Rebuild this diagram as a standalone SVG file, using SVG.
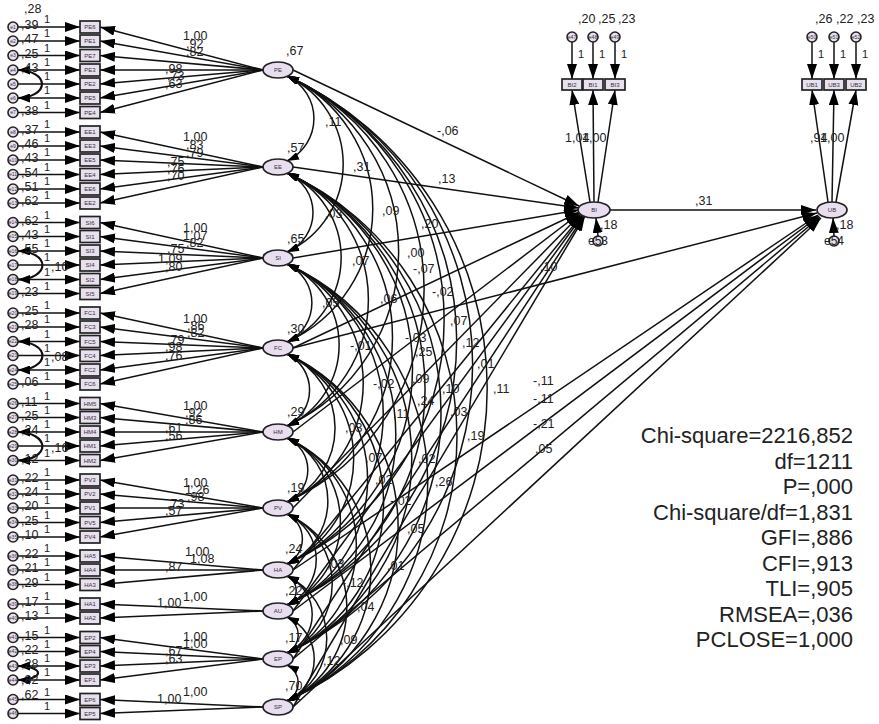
<svg xmlns="http://www.w3.org/2000/svg" width="879" height="724" viewBox="0 0 879 724">
<style>
.c line,.c path{stroke:#111;stroke-width:1.5;fill:none}
.a{marker-end:url(#ah)}
.v{marker-start:url(#ac);marker-end:url(#ac)}
.s{marker-start:url(#as);marker-end:url(#as);stroke-width:2.2!important}
.box rect{fill:#e8e0ef;stroke:#222;stroke-width:1.7}
.lat ellipse{fill:#e8def0;stroke:#222;stroke-width:1.7}
.err circle{fill:#e8def0;stroke:#222;stroke-width:1.6}
.bt{font-family:"Liberation Sans",Arial,sans-serif;font-size:6px;text-anchor:middle;fill:#333}
.et{font-family:"Liberation Sans",Arial,sans-serif;font-size:5px;text-anchor:middle;fill:#333}
.lab text{font-family:"Liberation Sans",Arial,sans-serif;font-size:12.5px;fill:#222}
.lab .one{font-size:11px}
.stat text{font-family:"Liberation Sans",Arial,sans-serif;font-size:22px;text-anchor:end;fill:#222}
</style>
<defs>
<marker id="ah" viewBox="0 0 15 10" refX="15" refY="5" markerWidth="15" markerHeight="10" markerUnits="userSpaceOnUse" orient="auto"><path d="M0,0L15,5L0,10z" fill="#000"/></marker>
<marker id="ac" viewBox="0 0 12 8" refX="12" refY="4" markerWidth="12" markerHeight="8" markerUnits="userSpaceOnUse" orient="auto-start-reverse"><path d="M0,0L12,4L0,8z" fill="#000"/></marker>
<marker id="as" viewBox="0 0 12 9" refX="12" refY="4.5" markerWidth="12" markerHeight="9" markerUnits="userSpaceOnUse" orient="auto-start-reverse"><path d="M0,0L12,4.5L0,9z" fill="#000"/></marker>
</defs>
<rect width="879" height="724" fill="#fff"/>
<g id="connectors" class="c">
<line class="a" x1="18" y1="27" x2="80" y2="27"/><line class="a" x1="18" y1="41" x2="80" y2="41"/><line class="a" x1="18" y1="55.5" x2="80" y2="55.5"/><line class="a" x1="18" y1="70" x2="80" y2="70"/><line class="a" x1="18" y1="84" x2="80" y2="84"/><line class="a" x1="18" y1="98" x2="80" y2="98"/><line class="a" x1="18" y1="112.5" x2="80" y2="112.5"/>
<line class="a" x1="18" y1="132" x2="80" y2="132"/><line class="a" x1="18" y1="146" x2="80" y2="146"/><line class="a" x1="18" y1="160" x2="80" y2="160"/><line class="a" x1="18" y1="174.5" x2="80" y2="174.5"/><line class="a" x1="18" y1="189" x2="80" y2="189"/><line class="a" x1="18" y1="203" x2="80" y2="203"/>
<line class="a" x1="18" y1="222.5" x2="80" y2="222.5"/><line class="a" x1="18" y1="236.5" x2="80" y2="236.5"/><line class="a" x1="18" y1="251" x2="80" y2="251"/><line class="a" x1="18" y1="265" x2="80" y2="265"/><line class="a" x1="18" y1="279.5" x2="80" y2="279.5"/><line class="a" x1="18" y1="293.5" x2="80" y2="293.5"/>
<line class="a" x1="18" y1="313" x2="80" y2="313"/><line class="a" x1="18" y1="327" x2="80" y2="327"/><line class="a" x1="18" y1="341.5" x2="80" y2="341.5"/><line class="a" x1="18" y1="355.5" x2="80" y2="355.5"/><line class="a" x1="18" y1="370" x2="80" y2="370"/><line class="a" x1="18" y1="384" x2="80" y2="384"/>
<line class="a" x1="18" y1="403.5" x2="80" y2="403.5"/><line class="a" x1="18" y1="417.5" x2="80" y2="417.5"/><line class="a" x1="18" y1="432" x2="80" y2="432"/><line class="a" x1="18" y1="446" x2="80" y2="446"/><line class="a" x1="18" y1="460.5" x2="80" y2="460.5"/>
<line class="a" x1="18" y1="480" x2="80" y2="480"/><line class="a" x1="18" y1="494" x2="80" y2="494"/><line class="a" x1="18" y1="508" x2="80" y2="508"/><line class="a" x1="18" y1="522.5" x2="80" y2="522.5"/><line class="a" x1="18" y1="537" x2="80" y2="537"/>
<line class="a" x1="18" y1="556" x2="80" y2="556"/><line class="a" x1="18" y1="570" x2="80" y2="570"/><line class="a" x1="18" y1="584.5" x2="80" y2="584.5"/>
<line class="a" x1="18" y1="604" x2="80" y2="604"/><line class="a" x1="18" y1="618" x2="80" y2="618"/>
<line class="a" x1="18" y1="637.5" x2="80" y2="637.5"/><line class="a" x1="18" y1="651.5" x2="80" y2="651.5"/><line class="a" x1="18" y1="666" x2="80" y2="666"/><line class="a" x1="18" y1="680" x2="80" y2="680"/>
<line class="a" x1="18" y1="699.5" x2="80" y2="699.5"/><line class="a" x1="18" y1="713.5" x2="80" y2="713.5"/>
<path class="s" d="M18,70 A24,14 0 0 1 18,98"/>
<path class="s" d="M18,251 A24,14 0 0 1 18,279.5"/>
<path class="s" d="M18,341.5 A24,14 0 0 1 18,370"/>
<path class="s" d="M18,432 A24,14 0 0 1 18,460.5"/>
<path class="s" d="M18,666 A20,7 0 0 1 18,680"/>
<line class="a" x1="263" y1="70" x2="100" y2="27"/><line class="a" x1="263" y1="70" x2="100" y2="41"/><line class="a" x1="263" y1="70" x2="100" y2="55.5"/><line class="a" x1="263" y1="70" x2="100" y2="70"/><line class="a" x1="263" y1="70" x2="100" y2="84"/><line class="a" x1="263" y1="70" x2="100" y2="98"/><line class="a" x1="263" y1="70" x2="100" y2="112.5"/>
<line class="a" x1="263" y1="167" x2="100" y2="132"/><line class="a" x1="263" y1="167" x2="100" y2="146"/><line class="a" x1="263" y1="167" x2="100" y2="160"/><line class="a" x1="263" y1="167" x2="100" y2="174.5"/><line class="a" x1="263" y1="167" x2="100" y2="189"/><line class="a" x1="263" y1="167" x2="100" y2="203"/>
<line class="a" x1="263" y1="258" x2="100" y2="222.5"/><line class="a" x1="263" y1="258" x2="100" y2="236.5"/><line class="a" x1="263" y1="258" x2="100" y2="251"/><line class="a" x1="263" y1="258" x2="100" y2="265"/><line class="a" x1="263" y1="258" x2="100" y2="279.5"/><line class="a" x1="263" y1="258" x2="100" y2="293.5"/>
<line class="a" x1="263" y1="348" x2="100" y2="313"/><line class="a" x1="263" y1="348" x2="100" y2="327"/><line class="a" x1="263" y1="348" x2="100" y2="341.5"/><line class="a" x1="263" y1="348" x2="100" y2="355.5"/><line class="a" x1="263" y1="348" x2="100" y2="370"/><line class="a" x1="263" y1="348" x2="100" y2="384"/>
<line class="a" x1="263" y1="432" x2="100" y2="403.5"/><line class="a" x1="263" y1="432" x2="100" y2="417.5"/><line class="a" x1="263" y1="432" x2="100" y2="432"/><line class="a" x1="263" y1="432" x2="100" y2="446"/><line class="a" x1="263" y1="432" x2="100" y2="460.5"/>
<line class="a" x1="263" y1="508" x2="100" y2="480"/><line class="a" x1="263" y1="508" x2="100" y2="494"/><line class="a" x1="263" y1="508" x2="100" y2="508"/><line class="a" x1="263" y1="508" x2="100" y2="522.5"/><line class="a" x1="263" y1="508" x2="100" y2="537"/>
<line class="a" x1="263" y1="570" x2="100" y2="556"/><line class="a" x1="263" y1="570" x2="100" y2="570"/><line class="a" x1="263" y1="570" x2="100" y2="584.5"/>
<line class="a" x1="263" y1="611" x2="100" y2="604"/><line class="a" x1="263" y1="611" x2="100" y2="618"/>
<line class="a" x1="263" y1="659" x2="100" y2="637.5"/><line class="a" x1="263" y1="659" x2="100" y2="651.5"/><line class="a" x1="263" y1="659" x2="100" y2="666"/><line class="a" x1="263" y1="659" x2="100" y2="680"/>
<line class="a" x1="263" y1="707" x2="100" y2="699.5"/><line class="a" x1="263" y1="707" x2="100" y2="713.5"/>
<path class="v" d="M287,76 A47,47 0 0 1 287,161"/>
<path class="v" d="M287,76 A97,97 0 0 1 287,252"/>
<path class="v" d="M287,76 A146,146 0 0 1 287,342"/>
<path class="v" d="M287,76 A193,193 0 0 1 287,426"/>
<path class="v" d="M287,76 A234,234 0 0 1 287,502"/>
<path class="v" d="M287,76 A268,268 0 0 1 287,564"/>
<path class="v" d="M287,76 A291,291 0 0 1 287,605"/>
<path class="v" d="M287,76 A317,317 0 0 1 287,653"/>
<path class="v" d="M287,76 A344,344 0 0 1 287,701"/>
<path class="v" d="M287,173 A43,43 0 0 1 287,252"/>
<path class="v" d="M287,173 A93,93 0 0 1 287,342"/>
<path class="v" d="M287,173 A139,139 0 0 1 287,426"/>
<path class="v" d="M287,173 A181,181 0 0 1 287,502"/>
<path class="v" d="M287,173 A215,215 0 0 1 287,564"/>
<path class="v" d="M287,173 A238,238 0 0 1 287,605"/>
<path class="v" d="M287,173 A264,264 0 0 1 287,653"/>
<path class="v" d="M287,173 A290,290 0 0 1 287,701"/>
<path class="v" d="M287,264 A43,43 0 0 1 287,342"/>
<path class="v" d="M287,264 A89,89 0 0 1 287,426"/>
<path class="v" d="M287,264 A131,131 0 0 1 287,502"/>
<path class="v" d="M287,264 A165,165 0 0 1 287,564"/>
<path class="v" d="M287,264 A188,188 0 0 1 287,605"/>
<path class="v" d="M287,264 A214,214 0 0 1 287,653"/>
<path class="v" d="M287,264 A240,240 0 0 1 287,701"/>
<path class="v" d="M287,354 A40,40 0 0 1 287,426"/>
<path class="v" d="M287,354 A81,81 0 0 1 287,502"/>
<path class="v" d="M287,354 A116,116 0 0 1 287,564"/>
<path class="v" d="M287,354 A138,138 0 0 1 287,605"/>
<path class="v" d="M287,354 A164,164 0 0 1 287,653"/>
<path class="v" d="M287,354 A191,191 0 0 1 287,701"/>
<path class="v" d="M287,438 A35,35 0 0 1 287,502"/>
<path class="v" d="M287,438 A69,69 0 0 1 287,564"/>
<path class="v" d="M287,438 A92,92 0 0 1 287,605"/>
<path class="v" d="M287,438 A118,118 0 0 1 287,653"/>
<path class="v" d="M287,438 A145,145 0 0 1 287,701"/>
<path class="v" d="M287,514 A28,28 0 0 1 287,564"/>
<path class="v" d="M287,514 A50,50 0 0 1 287,605"/>
<path class="v" d="M287,514 A76,76 0 0 1 287,653"/>
<path class="v" d="M287,514 A103,103 0 0 1 287,701"/>
<path class="v" d="M287,576 A16,16 0 0 1 287,605"/>
<path class="v" d="M287,576 A42,42 0 0 1 287,653"/>
<path class="v" d="M287,576 A69,69 0 0 1 287,701"/>
<path class="v" d="M287,617 A20,20 0 0 1 287,653"/>
<path class="v" d="M287,617 A46,46 0 0 1 287,701"/>
<path class="v" d="M287,665 A20,20 0 0 1 287,701"/>
<line class="a" x1="293" y1="70" x2="579" y2="206"/>
<line class="a" x1="293" y1="167" x2="579" y2="208"/>
<line class="a" x1="293" y1="258" x2="579" y2="210"/>
<line class="a" x1="293" y1="348" x2="580" y2="212"/>
<line class="a" x1="293" y1="432" x2="580" y2="213"/>
<line class="a" x1="293" y1="508" x2="581" y2="214"/>
<line class="a" x1="293" y1="570" x2="582" y2="215"/>
<line class="a" x1="293" y1="611" x2="583" y2="215"/>
<line class="a" x1="293" y1="659" x2="584" y2="216"/>
<line class="a" x1="293" y1="707" x2="585" y2="216"/>
<line class="a" x1="293" y1="348" x2="817" y2="213"/>
<line class="a" x1="293" y1="570" x2="818" y2="215"/>
<line class="a" x1="293" y1="611" x2="819" y2="216"/>
<line class="a" x1="293" y1="659" x2="820" y2="217"/>
<line class="a" x1="293" y1="707" x2="821" y2="218"/>
<line class="a" x1="610" y1="210" x2="816" y2="210"/>
<line class="a" x1="590" y1="202" x2="572" y2="90"/><line class="a" x1="594" y1="202" x2="593" y2="90"/><line class="a" x1="598" y1="202" x2="615" y2="90"/>
<line class="a" x1="828" y1="202" x2="812" y2="90"/><line class="a" x1="832" y1="202" x2="834" y2="90"/><line class="a" x1="836" y1="202" x2="856" y2="90"/>
<line class="a" x1="572" y1="42" x2="572" y2="79"/><line class="a" x1="593" y1="42" x2="593" y2="79"/><line class="a" x1="615" y1="42" x2="615" y2="79"/>
<line class="a" x1="812" y1="42" x2="812" y2="79"/><line class="a" x1="834" y1="42" x2="834" y2="79"/><line class="a" x1="856" y1="42" x2="856" y2="79"/>
<line class="a" x1="598" y1="236" x2="596" y2="218"/><line class="a" x1="834" y1="236" x2="833" y2="218"/>
</g>
<g class="err">
<g id="e1"><circle cx="13" cy="27" r="5"/><text class="et" x="13" y="28.7">e1</text></g>
<g id="e2"><circle cx="13" cy="41" r="5"/><text class="et" x="13" y="42.7">e2</text></g>
<g id="e3"><circle cx="13" cy="55.5" r="5"/><text class="et" x="13" y="57.2">e3</text></g>
<g id="e4"><circle cx="13" cy="70" r="5"/><text class="et" x="13" y="71.7">e4</text></g>
<g id="e5"><circle cx="13" cy="84" r="5"/><text class="et" x="13" y="85.7">e5</text></g>
<g id="e6"><circle cx="13" cy="98" r="5"/><text class="et" x="13" y="99.7">e6</text></g>
<g id="e7"><circle cx="13" cy="112.5" r="5"/><text class="et" x="13" y="114.2">e7</text></g>
<g id="e8"><circle cx="13" cy="132" r="5"/><text class="et" x="13" y="133.7">e8</text></g>
<g id="e9"><circle cx="13" cy="146" r="5"/><text class="et" x="13" y="147.7">e9</text></g>
<g id="e10"><circle cx="13" cy="160" r="5"/><text class="et" x="13" y="161.7">e10</text></g>
<g id="e11"><circle cx="13" cy="174.5" r="5"/><text class="et" x="13" y="176.2">e11</text></g>
<g id="e12"><circle cx="13" cy="189" r="5"/><text class="et" x="13" y="190.7">e12</text></g>
<g id="e13"><circle cx="13" cy="203" r="5"/><text class="et" x="13" y="204.7">e13</text></g>
<g id="e14"><circle cx="13" cy="222.5" r="5"/><text class="et" x="13" y="224.2">e14</text></g>
<g id="e15"><circle cx="13" cy="236.5" r="5"/><text class="et" x="13" y="238.2">e15</text></g>
<g id="e16"><circle cx="13" cy="251" r="5"/><text class="et" x="13" y="252.7">e16</text></g>
<g id="e17"><circle cx="13" cy="265" r="5"/><text class="et" x="13" y="266.7">e17</text></g>
<g id="e18"><circle cx="13" cy="279.5" r="5"/><text class="et" x="13" y="281.2">e18</text></g>
<g id="e19"><circle cx="13" cy="293.5" r="5"/><text class="et" x="13" y="295.2">e19</text></g>
<g id="e20"><circle cx="13" cy="313" r="5"/><text class="et" x="13" y="314.7">e20</text></g>
<g id="e21"><circle cx="13" cy="327" r="5"/><text class="et" x="13" y="328.7">e21</text></g>
<g id="e22"><circle cx="13" cy="341.5" r="5"/><text class="et" x="13" y="343.2">e22</text></g>
<g id="e23"><circle cx="13" cy="355.5" r="5"/><text class="et" x="13" y="357.2">e23</text></g>
<g id="e24"><circle cx="13" cy="370" r="5"/><text class="et" x="13" y="371.7">e24</text></g>
<g id="e25"><circle cx="13" cy="384" r="5"/><text class="et" x="13" y="385.7">e25</text></g>
<g id="e26"><circle cx="13" cy="403.5" r="5"/><text class="et" x="13" y="405.2">e26</text></g>
<g id="e27"><circle cx="13" cy="417.5" r="5"/><text class="et" x="13" y="419.2">e27</text></g>
<g id="e28"><circle cx="13" cy="432" r="5"/><text class="et" x="13" y="433.7">e28</text></g>
<g id="e29"><circle cx="13" cy="446" r="5"/><text class="et" x="13" y="447.7">e29</text></g>
<g id="e30"><circle cx="13" cy="460.5" r="5"/><text class="et" x="13" y="462.2">e30</text></g>
<g id="e31"><circle cx="13" cy="480" r="5"/><text class="et" x="13" y="481.7">e31</text></g>
<g id="e32"><circle cx="13" cy="494" r="5"/><text class="et" x="13" y="495.7">e32</text></g>
<g id="e33"><circle cx="13" cy="508" r="5"/><text class="et" x="13" y="509.7">e33</text></g>
<g id="e34"><circle cx="13" cy="522.5" r="5"/><text class="et" x="13" y="524.2">e34</text></g>
<g id="e35"><circle cx="13" cy="537" r="5"/><text class="et" x="13" y="538.7">e35</text></g>
<g id="e36"><circle cx="13" cy="556" r="5"/><text class="et" x="13" y="557.7">e36</text></g>
<g id="e37"><circle cx="13" cy="570" r="5"/><text class="et" x="13" y="571.7">e37</text></g>
<g id="e38"><circle cx="13" cy="584.5" r="5"/><text class="et" x="13" y="586.2">e38</text></g>
<g id="e39"><circle cx="13" cy="604" r="5"/><text class="et" x="13" y="605.7">e39</text></g>
<g id="e40"><circle cx="13" cy="618" r="5"/><text class="et" x="13" y="619.7">e40</text></g>
<g id="e41"><circle cx="13" cy="637.5" r="5"/><text class="et" x="13" y="639.2">e41</text></g>
<g id="e42"><circle cx="13" cy="651.5" r="5"/><text class="et" x="13" y="653.2">e42</text></g>
<g id="e43"><circle cx="13" cy="666" r="5"/><text class="et" x="13" y="667.7">e43</text></g>
<g id="e44"><circle cx="13" cy="680" r="5"/><text class="et" x="13" y="681.7">e44</text></g>
<g id="e45"><circle cx="13" cy="699.5" r="5"/><text class="et" x="13" y="701.2">e45</text></g>
<g id="e46"><circle cx="13" cy="713.5" r="5"/><text class="et" x="13" y="715.2">e46</text></g>
<g id="e47"><circle cx="572" cy="37" r="5"/><text class="et" x="572" y="38.7">e47</text></g>
<g id="e48"><circle cx="593" cy="37" r="5"/><text class="et" x="593" y="38.7">e48</text></g>
<g id="e49"><circle cx="615" cy="37" r="5"/><text class="et" x="615" y="38.7">e49</text></g>
<g id="e50"><circle cx="812" cy="37" r="5"/><text class="et" x="812" y="38.7">e50</text></g>
<g id="e51"><circle cx="834" cy="37" r="5"/><text class="et" x="834" y="38.7">e51</text></g>
<g id="e52"><circle cx="856" cy="37" r="5"/><text class="et" x="856" y="38.7">e52</text></g>
<g id="e53"><circle cx="598" cy="241" r="5"/><text x="598" y="245" font-family="Liberation Sans, Arial, sans-serif" font-size="12" text-anchor="middle" fill="#222">e53</text></g>
<g id="e54"><circle cx="834" cy="241" r="5"/><text x="834" y="245" font-family="Liberation Sans, Arial, sans-serif" font-size="12" text-anchor="middle" fill="#222">e54</text></g>
</g>
<g class="box">
<g id="PE6"><rect x="80" y="21" width="20" height="12"/><text class="bt" x="90" y="29">PE6</text></g>
<g id="PE1"><rect x="80" y="35" width="20" height="12"/><text class="bt" x="90" y="43">PE1</text></g>
<g id="PE7"><rect x="80" y="49.5" width="20" height="12"/><text class="bt" x="90" y="57.5">PE7</text></g>
<g id="PE3"><rect x="80" y="64" width="20" height="12"/><text class="bt" x="90" y="72">PE3</text></g>
<g id="PE2"><rect x="80" y="78" width="20" height="12"/><text class="bt" x="90" y="86">PE2</text></g>
<g id="PE5"><rect x="80" y="92" width="20" height="12"/><text class="bt" x="90" y="100">PE5</text></g>
<g id="PE4"><rect x="80" y="106.5" width="20" height="12"/><text class="bt" x="90" y="114.5">PE4</text></g>
<g id="EE1"><rect x="80" y="126" width="20" height="12"/><text class="bt" x="90" y="134">EE1</text></g>
<g id="EE3"><rect x="80" y="140" width="20" height="12"/><text class="bt" x="90" y="148">EE3</text></g>
<g id="EE5"><rect x="80" y="154" width="20" height="12"/><text class="bt" x="90" y="162">EE5</text></g>
<g id="EE4"><rect x="80" y="168.5" width="20" height="12"/><text class="bt" x="90" y="176.5">EE4</text></g>
<g id="EE6"><rect x="80" y="183" width="20" height="12"/><text class="bt" x="90" y="191">EE6</text></g>
<g id="EE2"><rect x="80" y="197" width="20" height="12"/><text class="bt" x="90" y="205">EE2</text></g>
<g id="SI6"><rect x="80" y="216.5" width="20" height="12"/><text class="bt" x="90" y="224.5">SI6</text></g>
<g id="SI1"><rect x="80" y="230.5" width="20" height="12"/><text class="bt" x="90" y="238.5">SI1</text></g>
<g id="SI3"><rect x="80" y="245" width="20" height="12"/><text class="bt" x="90" y="253">SI3</text></g>
<g id="SI4"><rect x="80" y="259" width="20" height="12"/><text class="bt" x="90" y="267">SI4</text></g>
<g id="SI2"><rect x="80" y="273.5" width="20" height="12"/><text class="bt" x="90" y="281.5">SI2</text></g>
<g id="SI5"><rect x="80" y="287.5" width="20" height="12"/><text class="bt" x="90" y="295.5">SI5</text></g>
<g id="FC1"><rect x="80" y="307" width="20" height="12"/><text class="bt" x="90" y="315">FC1</text></g>
<g id="FC3"><rect x="80" y="321" width="20" height="12"/><text class="bt" x="90" y="329">FC3</text></g>
<g id="FC5"><rect x="80" y="335.5" width="20" height="12"/><text class="bt" x="90" y="343.5">FC5</text></g>
<g id="FC4"><rect x="80" y="349.5" width="20" height="12"/><text class="bt" x="90" y="357.5">FC4</text></g>
<g id="FC2"><rect x="80" y="364" width="20" height="12"/><text class="bt" x="90" y="372">FC2</text></g>
<g id="FC6"><rect x="80" y="378" width="20" height="12"/><text class="bt" x="90" y="386">FC6</text></g>
<g id="HM5"><rect x="80" y="397.5" width="20" height="12"/><text class="bt" x="90" y="405.5">HM5</text></g>
<g id="HM3"><rect x="80" y="411.5" width="20" height="12"/><text class="bt" x="90" y="419.5">HM3</text></g>
<g id="HM4"><rect x="80" y="426" width="20" height="12"/><text class="bt" x="90" y="434">HM4</text></g>
<g id="HM1"><rect x="80" y="440" width="20" height="12"/><text class="bt" x="90" y="448">HM1</text></g>
<g id="HM2"><rect x="80" y="454.5" width="20" height="12"/><text class="bt" x="90" y="462.5">HM2</text></g>
<g id="PV3"><rect x="80" y="474" width="20" height="12"/><text class="bt" x="90" y="482">PV3</text></g>
<g id="PV2"><rect x="80" y="488" width="20" height="12"/><text class="bt" x="90" y="496">PV2</text></g>
<g id="PV1"><rect x="80" y="502" width="20" height="12"/><text class="bt" x="90" y="510">PV1</text></g>
<g id="PV5"><rect x="80" y="516.5" width="20" height="12"/><text class="bt" x="90" y="524.5">PV5</text></g>
<g id="PV4"><rect x="80" y="531" width="20" height="12"/><text class="bt" x="90" y="539">PV4</text></g>
<g id="HA5"><rect x="80" y="550" width="20" height="12"/><text class="bt" x="90" y="558">HA5</text></g>
<g id="HA4"><rect x="80" y="564" width="20" height="12"/><text class="bt" x="90" y="572">HA4</text></g>
<g id="HA3"><rect x="80" y="578.5" width="20" height="12"/><text class="bt" x="90" y="586.5">HA3</text></g>
<g id="HA1"><rect x="80" y="598" width="20" height="12"/><text class="bt" x="90" y="606">HA1</text></g>
<g id="HA2"><rect x="80" y="612" width="20" height="12"/><text class="bt" x="90" y="620">HA2</text></g>
<g id="EP2"><rect x="80" y="631.5" width="20" height="12"/><text class="bt" x="90" y="639.5">EP2</text></g>
<g id="EP4"><rect x="80" y="645.5" width="20" height="12"/><text class="bt" x="90" y="653.5">EP4</text></g>
<g id="EP3"><rect x="80" y="660" width="20" height="12"/><text class="bt" x="90" y="668">EP3</text></g>
<g id="EP1"><rect x="80" y="674" width="20" height="12"/><text class="bt" x="90" y="682">EP1</text></g>
<g id="EP6"><rect x="80" y="693.5" width="20" height="12"/><text class="bt" x="90" y="701.5">EP6</text></g>
<g id="EP5"><rect x="80" y="707.5" width="20" height="12"/><text class="bt" x="90" y="715.5">EP5</text></g>
<g id="BI2"><rect x="562" y="79" width="20" height="11"/><text class="bt" x="572" y="86.5">BI2</text></g>
<g id="BI1"><rect x="583" y="79" width="20" height="11"/><text class="bt" x="593" y="86.5">BI1</text></g>
<g id="BI3"><rect x="605" y="79" width="20" height="11"/><text class="bt" x="615" y="86.5">BI3</text></g>
<g id="UB1"><rect x="802" y="79" width="20" height="11"/><text class="bt" x="812" y="86.5">UB1</text></g>
<g id="UB3"><rect x="824" y="79" width="20" height="11"/><text class="bt" x="834" y="86.5">UB3</text></g>
<g id="UB2"><rect x="846" y="79" width="20" height="11"/><text class="bt" x="856" y="86.5">UB2</text></g>
</g>
<g class="lat">
<g id="PE"><ellipse cx="278" cy="70" rx="15" ry="8"/><text class="bt" x="278" y="72">PE</text></g>
<g id="EE"><ellipse cx="278" cy="167" rx="15" ry="8"/><text class="bt" x="278" y="169">EE</text></g>
<g id="SI"><ellipse cx="278" cy="258" rx="15" ry="8"/><text class="bt" x="278" y="260">SI</text></g>
<g id="FC"><ellipse cx="278" cy="348" rx="15" ry="8"/><text class="bt" x="278" y="350">FC</text></g>
<g id="HM"><ellipse cx="278" cy="432" rx="15" ry="8"/><text class="bt" x="278" y="434">HM</text></g>
<g id="PV"><ellipse cx="278" cy="508" rx="15" ry="8"/><text class="bt" x="278" y="510">PV</text></g>
<g id="HA"><ellipse cx="278" cy="570" rx="15" ry="8"/><text class="bt" x="278" y="572">HA</text></g>
<g id="AU"><ellipse cx="278" cy="611" rx="15" ry="8"/><text class="bt" x="278" y="613">AU</text></g>
<g id="EP"><ellipse cx="278" cy="659" rx="15" ry="8"/><text class="bt" x="278" y="661">EP</text></g>
<g id="SP"><ellipse cx="278" cy="707" rx="15" ry="8"/><text class="bt" x="278" y="709">SP</text></g>
<g id="BI"><ellipse cx="594" cy="210" rx="16" ry="8"/><text class="bt" x="594" y="212">BI</text></g>
<g id="UB"><ellipse cx="832" cy="210" rx="15" ry="8"/><text class="bt" x="832" y="212">UB</text></g>
</g>
<g class="lab">
<text x="24" y="13">,28</text>
<text x="21" y="29">,39</text><text x="21" y="43">,47</text><text x="21" y="57.5">,25</text><text x="21" y="72">,43</text><text x="21" y="114.5">,38</text>
<text x="21" y="134">,37</text><text x="21" y="148">,46</text><text x="21" y="162">,43</text><text x="21" y="176.5">,54</text><text x="21" y="191">,51</text><text x="21" y="205">,62</text>
<text x="21" y="224.5">,62</text><text x="21" y="238.5">,43</text><text x="21" y="253">,55</text><text x="21" y="295.5">,23</text>
<text x="21" y="315">,25</text><text x="21" y="329">,28</text><text x="21" y="386">,06</text>
<text x="21" y="405.5">,11</text><text x="21" y="419.5">,25</text><text x="21" y="434">,24</text><text x="21" y="462.5">,12</text>
<text x="21" y="482">,22</text><text x="21" y="496">,24</text><text x="21" y="510">,20</text><text x="21" y="524.5">,25</text><text x="21" y="539">,10</text>
<text x="21" y="558">,22</text><text x="21" y="572">,21</text><text x="21" y="586.5">,29</text>
<text x="21" y="606">,17</text><text x="21" y="620">,13</text>
<text x="21" y="639.5">,15</text><text x="21" y="653.5">,22</text><text x="21" y="668">,28</text><text x="21" y="684">,82</text>
<text x="21" y="699">,62</text>
<text x="51" y="271">,10</text><text x="51" y="361">,08</text><text x="51" y="452">,16</text>
<text class="one" x="44" y="23">1</text><text class="one" x="44" y="37">1</text><text class="one" x="44" y="51.5">1</text><text class="one" x="44" y="66">1</text><text class="one" x="44" y="80">1</text><text class="one" x="44" y="94">1</text><text class="one" x="44" y="108.5">1</text>
<text class="one" x="44" y="128">1</text><text class="one" x="44" y="142">1</text><text class="one" x="44" y="156">1</text><text class="one" x="44" y="170.5">1</text><text class="one" x="44" y="185">1</text><text class="one" x="44" y="199">1</text>
<text class="one" x="44" y="218.5">1</text><text class="one" x="44" y="232.5">1</text><text class="one" x="44" y="247">1</text><text class="one" x="44" y="261">1</text><text class="one" x="44" y="275.5">1</text><text class="one" x="44" y="289.5">1</text>
<text class="one" x="44" y="309">1</text><text class="one" x="44" y="323">1</text><text class="one" x="44" y="337.5">1</text><text class="one" x="44" y="351.5">1</text><text class="one" x="44" y="366">1</text><text class="one" x="44" y="380">1</text>
<text class="one" x="44" y="399.5">1</text><text class="one" x="44" y="413.5">1</text><text class="one" x="44" y="428">1</text><text class="one" x="44" y="442">1</text><text class="one" x="44" y="456.5">1</text>
<text class="one" x="44" y="476">1</text><text class="one" x="44" y="490">1</text><text class="one" x="44" y="504">1</text><text class="one" x="44" y="518.5">1</text><text class="one" x="44" y="533">1</text>
<text class="one" x="44" y="552">1</text><text class="one" x="44" y="566">1</text><text class="one" x="44" y="580.5">1</text>
<text class="one" x="44" y="600">1</text><text class="one" x="44" y="614">1</text>
<text class="one" x="44" y="633.5">1</text><text class="one" x="44" y="647.5">1</text><text class="one" x="44" y="662">1</text><text class="one" x="44" y="676">1</text>
<text class="one" x="44" y="695.5">1</text><text class="one" x="44" y="709.5">1</text>
<text class="one" x="578" y="58">1</text><text class="one" x="599" y="58">1</text><text class="one" x="621" y="58">1</text>
<text class="one" x="818" y="58">1</text><text class="one" x="840" y="58">1</text><text class="one" x="862" y="58">1</text>
<text x="183" y="40">1,00</text><text x="186" y="48">,92</text><text x="186" y="56">,82</text><text x="165" y="73">,98</text><text x="167" y="80">,73</text><text x="165" y="88">,63</text>
<text x="183" y="141">1,00</text><text x="186" y="149">,83</text><text x="186" y="157">,79</text><text x="167" y="166">,75</text><text x="167" y="173">,76</text><text x="167" y="180">,70</text>
<text x="183" y="232">1,00</text><text x="183" y="240">1,07</text><text x="186" y="247">,82</text><text x="167" y="253">,75</text><text x="158" y="263">1,09</text><text x="165" y="271">,80</text>
<text x="183" y="323">1,00</text><text x="187" y="330">,86</text><text x="187" y="337">,82</text><text x="167" y="344">,79</text><text x="165" y="351">,98</text><text x="165" y="360">,76</text>
<text x="183" y="410">1,00</text><text x="185" y="417">,92</text><text x="185" y="424">,86</text><text x="165" y="432">,61</text><text x="165" y="440">,56</text>
<text x="183" y="487">1,00</text><text x="185" y="494">1,26</text><text x="187" y="501">,98</text><text x="167" y="508">,73</text><text x="165" y="515">,57</text>
<text x="185" y="556">1,00</text><text x="190" y="563">1,08</text><text x="165" y="571">,87</text>
<text x="157" y="607">1,00</text><text x="183" y="601">1,00</text>
<text x="183" y="641">1,00</text><text x="183" y="648">1,00</text><text x="165" y="655">,67</text><text x="165" y="663">,63</text>
<text x="157" y="703">1,00</text><text x="183" y="696">1,00</text>
<text x="286" y="55">,67</text><text x="287" y="152">,57</text><text x="287" y="243">,65</text><text x="287" y="333">,30</text><text x="287" y="416">,29</text><text x="287" y="492">,19</text><text x="285" y="553">,24</text><text x="285" y="595">,22</text><text x="285" y="642">,17</text><text x="285" y="690">,70</text>
<text x="325" y="126">,11</text><text x="437" y="135">-,06</text><text x="353" y="171">,31</text><text x="438" y="183">,13</text>
<text x="382" y="215">,09</text><text x="325" y="218">,03</text><text x="421" y="228">,20</text><text x="407" y="257">,00</text>
<text x="413" y="273">-,07</text><text x="352" y="265">,07</text><text x="432" y="296">-,02</text><text x="380" y="303">,06</text>
<text x="322" y="307">,05</text><text x="450" y="325">,07</text><text x="462" y="347">,12</text><text x="405" y="342">-,03</text>
<text x="415" y="356">,25</text><text x="350" y="350">-,01</text><text x="477" y="368">,01</text><text x="493" y="393">,11</text>
<text x="373" y="388">-,02</text><text x="412" y="383">,09</text><text x="442" y="393">,10</text><text x="417" y="405">,24</text>
<text x="393" y="418">,11</text><text x="450" y="416">,03</text><text x="345" y="432">,03</text><text x="467" y="440">,19</text>
<text x="365" y="462">,07</text><text x="418" y="463">,02</text><text x="375" y="484">,02</text><text x="435" y="486">,26</text>
<text x="390" y="505">-,02</text><text x="407" y="533">,05</text><text x="327" y="568">,03</text><text x="387" y="570">,01</text>
<text x="342" y="587">-,12</text><text x="357" y="611">,04</text><text x="340" y="644">,09</text><text x="323" y="665">,12</text>
<text x="540" y="271">,10</text>
<text x="533" y="385">-,11</text><text x="533" y="403">-,11</text><text x="533" y="428">-,21</text><text x="535" y="453">,05</text>
<text x="600" y="229">,18</text><text x="836" y="229">,18</text><text x="695" y="205">,31</text>
<text x="565" y="142">1,04</text><text x="582" y="142">1,00</text>
<text x="810" y="142">,94</text><text x="820" y="142">1,00</text>
<text x="578" y="23">,20</text><text x="598" y="23">,25</text><text x="618" y="23">,23</text>
<text x="815" y="23">,26</text><text x="836" y="23">,22</text><text x="857" y="23">,23</text>
</g>
<g class="stat">
<text x="853" y="443">Chi-square=2216,852</text>
<text x="853" y="468.5">df=1211</text>
<text x="853" y="494">P=,000</text>
<text x="853" y="519.5">Chi-square/df=1,831</text>
<text x="853" y="545">GFI=,886</text>
<text x="853" y="570.5">CFI=,913</text>
<text x="853" y="596">TLI=,905</text>
<text x="853" y="621.5">RMSEA=,036</text>
<text x="853" y="647">PCLOSE=1,000</text>
</g>
</svg>
